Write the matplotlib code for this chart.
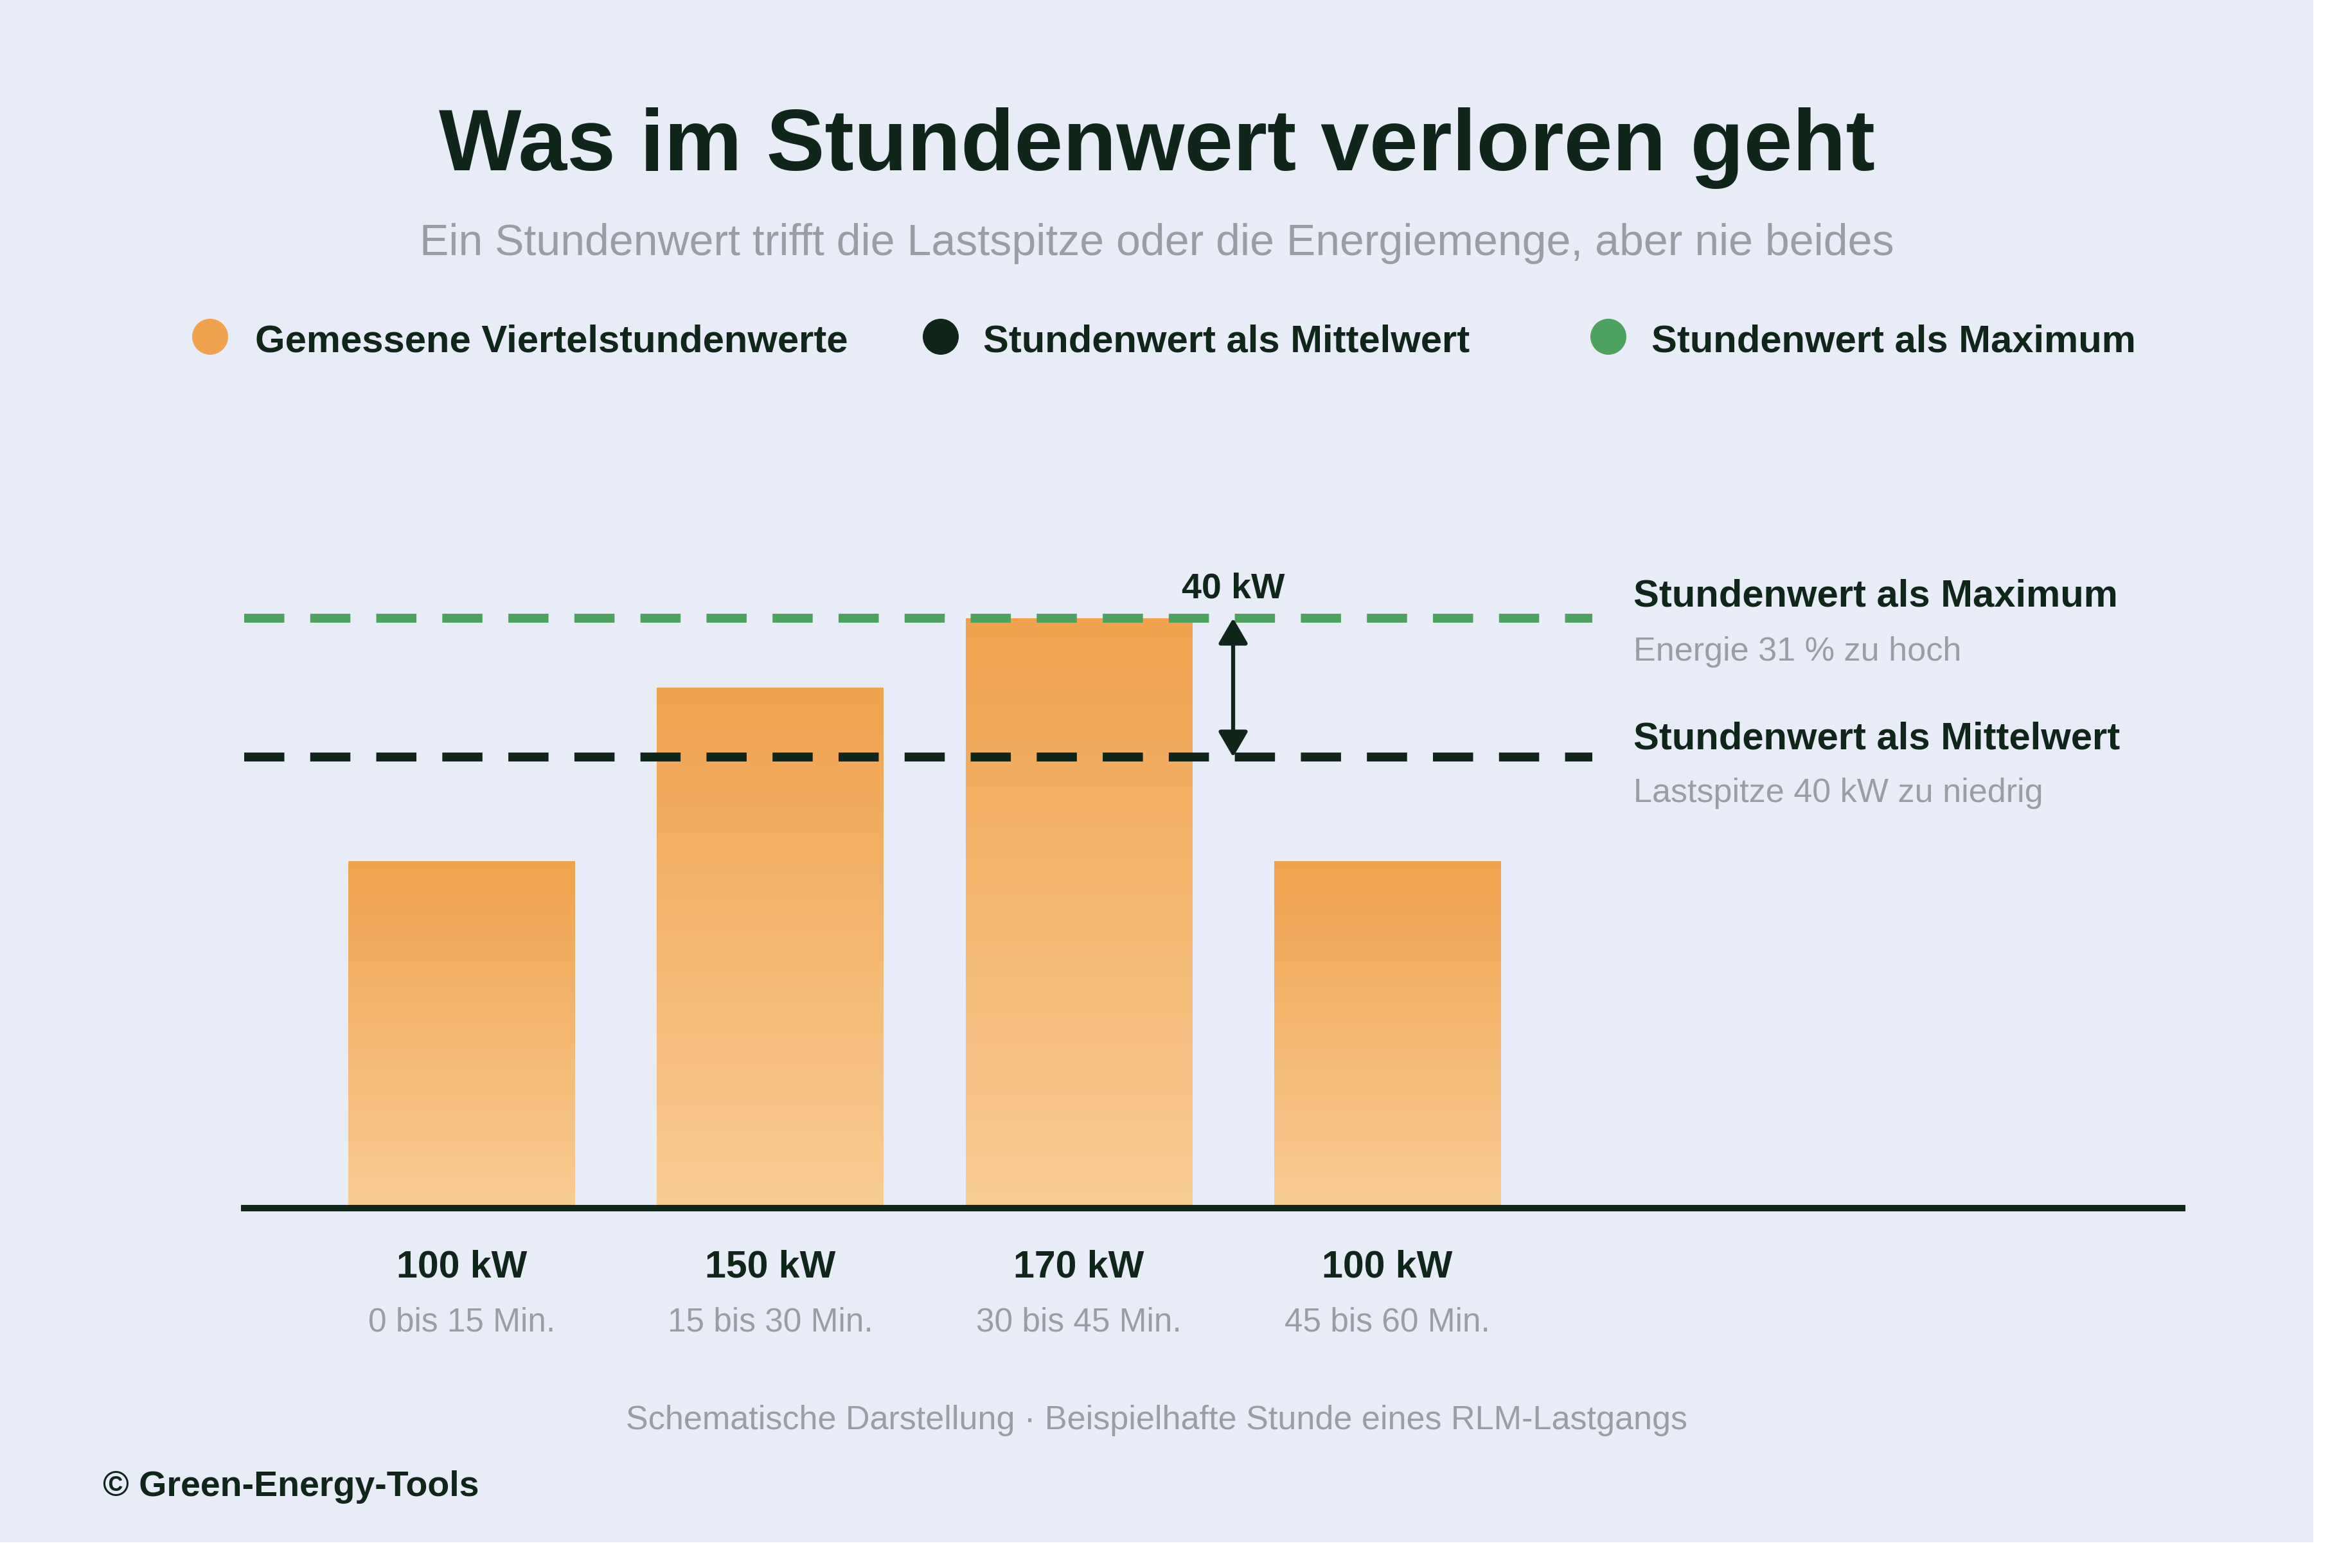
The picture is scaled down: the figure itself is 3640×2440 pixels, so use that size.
import numpy as np
import matplotlib
matplotlib.use("Agg")
import matplotlib.pyplot as plt
from matplotlib.patches import Rectangle, Circle, FancyArrowPatch
from matplotlib.colors import LinearSegmentedColormap

# Daten
zeitfenster = ["0 bis 15 Min.", "15 bis 30 Min.", "30 bis 45 Min.", "45 bis 60 Min."]
leistung_kw = [100, 150, 170, 100]
legende = ["Gemessene Viertelstundenwerte", "Stundenwert als Mittelwert", "Stundenwert als Maximum"]

BG = "#E8ECF7"
DARK = "#10261B"
GREEN = "#4DA25F"
ORANGE = "#F0A24E"
PEACH = "#F8CC95"
GRAY = "#9A9DA6"

W, H = 3640, 2440
plt.rcParams['font.family'] = ['Liberation Sans', 'DejaVu Sans']

fig = plt.figure(figsize=(W / 100, H / 100), dpi=100)
fig.patch.set_facecolor("white")
fig.add_artist(Rectangle((0, 40 / H), 3600 / W, 2400 / H, transform=fig.transFigure,
                         facecolor=BG, edgecolor="none", zorder=0))

# Diagrammachse (Pixelrahmen 380..3396 x 800..1880)
ax = fig.add_axes([380 / W, 1 - 1880 / H, (3396 - 380) / W, (1880 - 800) / H])
ax.set_facecolor("none")
x = np.arange(len(leistung_kw))
breite = 352 / 480
xmin, xmax = (382 - 720) / 480, (3396 - 720) / 480

cmap = LinearSegmentedColormap.from_list("bar", [PEACH, ORANGE])
grad = np.linspace(0, 1, 256).reshape(-1, 1)
bars = ax.bar(x, leistung_kw, width=breite, color="none", edgecolor="none")
for b in bars:
    im = ax.imshow(grad, extent=[b.get_x(), b.get_x() + b.get_width(), 0, b.get_height()],
                   origin="lower", aspect="auto", cmap=cmap, zorder=1)
    im.set_clip_path(b)

mittel = np.mean(leistung_kw)
maximum = max(leistung_kw)
x_end = (2479 - 720) / 480
ax.plot([xmin, x_end], [maximum, maximum], color=GREEN, lw=10, dashes=(4.5, 2.9),
        solid_capstyle="butt", dash_capstyle="butt", zorder=3)
ax.plot([xmin, x_end], [mittel, mittel], color=DARK, lw=10, dashes=(4.5, 2.9),
        solid_capstyle="butt", dash_capstyle="butt", zorder=3)
ax.axhline(0, color=DARK, lw=7.2, zorder=4, clip_on=False)

diff = maximum - mittel
pfeil = FancyArrowPatch((2.5, mittel), (2.5, maximum), arrowstyle="<|-|>,head_length=24,head_width=14",
                        mutation_scale=1, color=DARK, lw=4.5, shrinkA=0, shrinkB=0, zorder=5)
ax.add_patch(pfeil)
ax.annotate(f"{diff:.0f} kW", xy=(2.5, maximum), xytext=(0, 31), textcoords="offset pixels",
            ha="center", va="baseline", fontsize=40, fontweight="bold", color=DARK)

for xi, v, t in zip(x, leistung_kw, zeitfenster):
    ax.annotate(f"{v} kW", xy=(xi, 0), xytext=(0, -108), textcoords="offset pixels",
                ha="center", va="baseline", fontsize=42.5, fontweight="bold", color=DARK,
                annotation_clip=False)
    ax.annotate(t, xy=(xi, 0), xytext=(0, -192), textcoords="offset pixels",
                ha="center", va="baseline", fontsize=37, color=GRAY, annotation_clip=False)

ax.set_xlim(xmin, xmax)
ax.set_ylim(0, 200)
ax.axis("off")

# Overlay in Pixelkoordinaten fuer Texte
ov = fig.add_axes([0, 0, 1, 1])
ov.set_xlim(0, W)
ov.set_ylim(H, 0)
ov.axis("off")
ov.set_facecolor("none")

ov.text(1800, 265, "Was im Stundenwert verloren geht", ha="center", va="baseline",
        fontsize=98, fontweight="bold", color=DARK)
ov.text(1800, 397, "Ein Stundenwert trifft die Lastspitze oder die Energiemenge, aber nie beides",
        ha="center", va="baseline", fontsize=49, color=GRAY)

for cx, tx, farbe, label in zip([327, 1464, 2503], [397, 1530, 2570], [ORANGE, DARK, GREEN], legende):
    ov.add_patch(Circle((cx, 524), 28, facecolor=farbe, edgecolor="none"))
    ov.text(tx, 548, label, ha="left", va="baseline", fontsize=43, fontweight="bold", color=DARK)

energie_pct = diff / mittel * 100
ov.text(2542, 944, "Stundenwert als Maximum", ha="left", va="baseline",
        fontsize=43, fontweight="bold", color=DARK)
ov.text(2542, 1028, f"Energie {energie_pct:.0f} % zu hoch", ha="left", va="baseline",
        fontsize=37.5, color=GRAY)
ov.text(2542, 1165, "Stundenwert als Mittelwert", ha="left", va="baseline",
        fontsize=43, fontweight="bold", color=DARK)
ov.text(2542, 1248, f"Lastspitze {diff:.0f} kW zu niedrig", ha="left", va="baseline",
        fontsize=37.5, color=GRAY)

ov.text(1800, 2224, "Schematische Darstellung · Beispielhafte Stunde eines RLM-Lastgangs",
        ha="center", va="baseline", fontsize=37.5, color=GRAY)
ov.text(160, 2328, "© Green-Energy-Tools", ha="left", va="baseline",
        fontsize=40, fontweight="bold", color=DARK)

fig.savefig("out.png", dpi=100, facecolor=fig.get_facecolor())
